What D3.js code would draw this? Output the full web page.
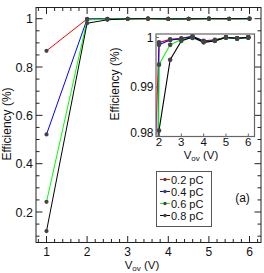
<!DOCTYPE html>
<html><head><meta charset="utf-8">
<script src="https://cdn.jsdelivr.net/npm/d3@7"></script>
<style>body{margin:0;background:#fff}svg{display:block}text{font-family:"Liberation Sans",Arial,Helvetica,sans-serif;fill:#111}</style>
</head><body>
<script>
const vov = [1, 2, 2.5, 3, 3.5, 4, 4.5, 5, 5.5, 6];
const eff02 = [0.867, 0.9990, 0.9996, 0.9998, 1.0002, 0.9993, 0.9995, 1.0000, 0.9998, 1.0000];
const eff04 = [0.521, 0.9985, 0.9995, 0.9997, 1.0002, 0.9992, 0.9994, 1.0000, 0.9998, 1.0000];
const eff06 = [0.242, 0.9945, 0.9985, 0.9996, 0.9999, 0.9991, 0.9993, 1.0000, 0.9998, 1.0000];
const eff08 = [0.121, 0.9812, 0.9955, 0.9993, 1.0001, 0.9990, 0.9993, 1.0000, 0.9998, 1.0000];
const seriesNames = ["0.2 pC", "0.4 pC", "0.6 pC", "0.8 pC"];
const seriesColors = ["#ff0000", "#0000ff", "#00ff00", "#000000"];
const mainXTicks = [1, 2, 3, 4, 5, 6];
const mainYTicks = [0.2, 0.4, 0.6, 0.8, 1];
const insetXTicks = [2, 3, 4, 5, 6];
const insetYTicks = [0.98, 0.99, 1];

const allSeries = [eff02, eff04, eff06, eff08];
const W = 264, H = 273;
const svg = d3.select("body").append("svg").attr("width", W).attr("height", H);

// main frame
const M = {l: 36, r: 261, t: 7.5, b: 242.5};
const x = d3.scaleLinear().domain([1, 6]).range([46.5, 249.5]);
const y = d3.scaleLinear().domain([0.2, 1]).range([212, 18.7]);
const xMin = x.invert(M.l), xMax = x.invert(M.r), yMin = y.invert(M.b), yMax = y.invert(M.t);

function ticksStep(a, b, s) { const out = []; for (let v = Math.ceil(a / s - 1e-9) * s; v <= b + 1e-9; v += s) out.push(+v.toFixed(6)); return out; }

const g = svg.append("g");
g.append("rect").attr("x", M.l).attr("y", M.t).attr("width", M.r - M.l).attr("height", M.b - M.t)
  .attr("fill", "none").attr("stroke", "#222").attr("stroke-width", 1);
// ticks main
const tk = g.append("g").attr("stroke", "#222").attr("stroke-width", 1);
ticksStep(xMin, xMax, 0.2).forEach(v => {
  const major = Math.abs(v - Math.round(v)) < 1e-6;
  const L = major ? 6.5 : 3.5;
  tk.append("line").attr("x1", x(v)).attr("x2", x(v)).attr("y1", M.b).attr("y2", M.b - L);
  tk.append("line").attr("x1", x(v)).attr("x2", x(v)).attr("y1", M.t).attr("y2", M.t + L);
});
ticksStep(yMin, yMax, 0.05).forEach(v => {
  const major = Math.abs(v * 5 - Math.round(v * 5)) < 1e-6;
  const L = major ? 6.5 : 3.5;
  tk.append("line").attr("y1", y(v)).attr("y2", y(v)).attr("x1", M.l).attr("x2", M.l + L);
  tk.append("line").attr("y1", y(v)).attr("y2", y(v)).attr("x1", M.r).attr("x2", M.r - L);
});
mainXTicks.forEach(v => g.append("text").attr("x", x(v)).attr("y", 255.5).attr("text-anchor", "middle")
  .attr("font-size", 12).text(d3.format("d")(v)));
mainYTicks.forEach(v => g.append("text").attr("x", 33).attr("y", y(v) + 4.5).attr("text-anchor", "end")
  .attr("font-size", 12.5).text(v === 1 ? "1" : d3.format(".1f")(v)));
const xt = g.append("text").attr("x", 142).attr("y", 268.5).attr("text-anchor", "middle").attr("font-size", 11.5);
xt.append("tspan").text("V");
xt.append("tspan").attr("font-size", 8).attr("dy", 2.5).text("ov");
xt.append("tspan").attr("dy", -2.5).text(" (V)");
g.append("text").attr("transform", "translate(11,124) rotate(-90)").attr("text-anchor", "middle")
  .attr("font-size", 12).text("Efficiency (%)");

const line = d3.line().x((d, i) => x(vov[i])).y(d => y(d));
allSeries.forEach((s, k) => g.append("path").attr("d", line(s)).attr("fill", "none")
  .attr("stroke", seriesColors[k]).attr("stroke-width", 1));
allSeries.forEach(s => s.forEach((d, i) => g.append("circle").attr("cx", x(vov[i])).attr("cy", y(d))
  .attr("r", 2.1).attr("fill", "#444")));

// inset
const I = {l: 156, r: 254.5, t: 34, b: 136.5};
const xi = d3.scaleLinear().domain([2, 6]).range([159, 248.3]);
const yi = d3.scaleLinear().domain([0.98, 1]).range([136.5, 37.4]);
const gi = svg.append("g");
gi.append("rect").attr("x", I.l).attr("y", I.t).attr("width", I.r - I.l).attr("height", I.b - I.t)
  .attr("fill", "#fff");
svg.append("defs").append("clipPath").attr("id", "ic").append("rect")
  .attr("x", I.l).attr("y", I.t).attr("width", I.r - I.l).attr("height", I.b - I.t);
const lineI = d3.line().x((d, i) => xi(vov[i])).y(d => yi(d));
const gd = gi.append("g").attr("clip-path", "url(#ic)");
allSeries.forEach((s, k) => gd.append("path").attr("d", lineI(s)).attr("fill", "none")
  .attr("stroke", seriesColors[k]).attr("stroke-width", 1.1));
allSeries.forEach(s => s.forEach((d, i) => gd.append("circle").attr("cx", xi(vov[i])).attr("cy", yi(d))
  .attr("r", 2.3).attr("fill", "#444")));
gi.append("rect").attr("x", I.l).attr("y", I.t).attr("width", I.r - I.l).attr("height", I.b - I.t)
  .attr("fill", "none").attr("stroke", "#666").attr("stroke-width", 1.2);
const tki = gi.append("g").attr("stroke", "#666").attr("stroke-width", 1);
insetXTicks.forEach(v => {
  tki.append("line").attr("x1", xi(v)).attr("x2", xi(v)).attr("y1", I.b).attr("y2", I.b - 3);
});
insetYTicks.forEach(v => {
  tki.append("line").attr("y1", yi(v)).attr("y2", yi(v)).attr("x1", I.l).attr("x2", I.l + 3);
});
insetXTicks.forEach(v => gi.append("text").attr("x", xi(v)).attr("y", 145.5).attr("text-anchor", "middle")
  .attr("font-size", 11.5).text(d3.format("d")(v)));
insetYTicks.forEach(v => gi.append("text").attr("x", 153.5).attr("y", Math.min(yi(v), 133) + 4.3)
  .attr("text-anchor", "end").attr("font-size", 12).text(v === 1 ? "1" : d3.format(".2f")(v)));
const xti = gi.append("text").attr("x", 201).attr("y", 158.5).attr("text-anchor", "middle").attr("font-size", 11.5);
xti.append("tspan").text("V");
xti.append("tspan").attr("font-size", 8).attr("dy", 2.5).text("ov");
xti.append("tspan").attr("dy", -2.5).text(" (V)");
gi.append("text").attr("transform", "translate(119,84) rotate(-90)").attr("text-anchor", "middle")
  .attr("font-size", 12).text("Efficiency (%)");

// legend
const lg = svg.append("g");
lg.append("rect").attr("x", 156.5).attr("y", 171.5).attr("width", 55).attr("height", 55)
  .attr("fill", "#fff").attr("stroke", "#555").attr("stroke-width", 1);
seriesNames.forEach((n, k) => {
  const yy = 179.5 + k * 12;
  lg.append("line").attr("x1", 160).attr("x2", 170).attr("y1", yy).attr("y2", yy)
    .attr("stroke", seriesColors[k]).attr("stroke-width", 1);
  lg.append("circle").attr("cx", 165).attr("cy", yy).attr("r", 1.7).attr("fill", "#444");
  lg.append("text").attr("x", 171).attr("y", yy + 4).attr("font-size", 11).text(n);
});
svg.append("text").attr("x", 242.5).attr("y", 202).attr("text-anchor", "middle").attr("font-size", 12).text("(a)");
</script>
</body></html>
